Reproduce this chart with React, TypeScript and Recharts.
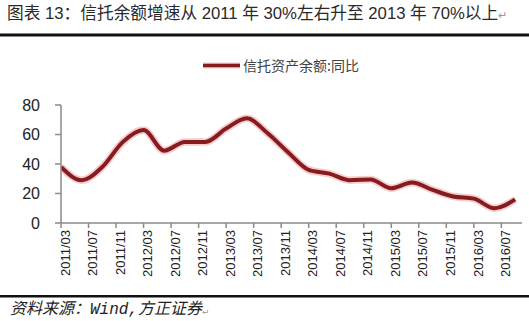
import React from "react";
import { LineChart, Line, XAxis, YAxis } from "recharts";

const quarters = [
  "2011/03", "2011/06", "2011/09", "2011/12",
  "2012/03", "2012/06", "2012/09", "2012/12",
  "2013/03", "2013/06", "2013/09", "2013/12",
  "2014/03", "2014/06", "2014/09", "2014/12",
  "2015/03", "2015/06", "2015/09", "2015/12",
  "2016/03", "2016/06", "2016/09",
];
const trustYoY = [
  38, 29, 38, 55,
  63, 49, 55, 55,
  64, 71, 61, 48,
  36, 33.5, 29, 29.5,
  23.5, 27.5, 22.5, 18,
  16.5, 10, 16,
];
const tickLabels = [
  "2011/03", "2011/07", "2011/11", "2012/03", "2012/07", "2012/11",
  "2013/03", "2013/07", "2013/11", "2014/03", "2014/07", "2014/11",
  "2015/03", "2015/07", "2015/11", "2016/03", "2016/07",
];
const yTicks = [0, 20, 40, 60, 80];
const seriesName = "信托资产余额:同比";
const titleText = "图表 13：信托余额增速从 2011 年 30%左右升至 2013 年 70%以上";
const sourceText = "资料来源：Wind,方正证券";

const monthIndex = (s: string) => {
  const [y, m] = s.split("/").map(Number);
  return (y - 2011) * 12 + (m - 3);
};

const data = quarters.map((q, i) => ({ m: monthIndex(q), v: trustYoY[i] }));
const xTicks = tickLabels.map(monthIndex);
const labelByMonth: Record<number, string> = {};
tickLabels.forEach((t) => (labelByMonth[monthIndex(t)] = t));

const LINE = "#861b20";
const GLOW = "#f6cccc";
const AXIS = "#8a8a8a";

const XTick = (props: any) => {
  const { x, y, payload } = props;
  const tx = x + 4;
  return (
    <text
      x={tx}
      y={y}
      transform={`rotate(-90, ${tx}, ${y})`}
      textAnchor="end"
      dy="0.36em"
      fontSize={13}
      fontFamily="'Liberation Sans', Arial, sans-serif"
      fill="#222"
    >
      {labelByMonth[payload.value]}
    </text>
  );
};

export default function App() {
  return (
    <div
      style={{
        position: "absolute",
        left: 0,
        top: 0,
        width: 529,
        height: 321,
        background: "#fff",
        overflow: "hidden",
      }}
    >
      <LineChart
        width={529}
        height={321}
        data={data}
        margin={{ top: 105, right: 7, bottom: 38, left: 0 }}
      >
        <XAxis
          dataKey="m"
          type="number"
          domain={[0, 67]}
          ticks={xTicks}
          interval={0}
          height={60}
          tickSize={5}
          tickMargin={2}
          stroke={AXIS}
          strokeWidth={1.5}
          tick={<XTick />}
          allowDataOverflow
        />
        <YAxis
          type="number"
          domain={[0, 80]}
          ticks={yTicks}
          width={61}
          tickSize={6}
          tickMargin={15}
          stroke={AXIS}
          strokeWidth={1.5}
          tick={{
            fontSize: 16,
            fontFamily: "'Liberation Sans', Arial, sans-serif",
            fill: "#222",
          }}
        />
        <Line
          dataKey="v"
          type="monotone"
          stroke={GLOW}
          strokeWidth={7.5}
          dot={false}
          activeDot={false}
          isAnimationActive={false}
          legendType="none"
        />
        <Line
          dataKey="v"
          name={seriesName}
          type="monotone"
          stroke={LINE}
          strokeWidth={4}
          dot={false}
          activeDot={false}
          isAnimationActive={false}
        />
      </LineChart>
      <svg
        width={529}
        height={321}
        style={{ position: "absolute", left: 0, top: 0, pointerEvents: "none" }}
      >
        <text
          x={7}
          y={19}
          fontSize={16.7}
          fontFamily="'Liberation Sans', 'Noto Sans CJK SC', sans-serif"
          fill="#2a2a2a"
        >
          {titleText}
          <tspan fontSize={11} fill="#999">↵</tspan>
        </text>
        <rect x={0} y={33.5} width={529} height={3} fill="#111" />
        <line x1={203} y1={65.5} x2={240} y2={65.5} stroke={GLOW} strokeWidth={6} />
        <line x1={203} y1={65.5} x2={240} y2={65.5} stroke={LINE} strokeWidth={3.5} />
        <text
          x={243}
          y={70.5}
          fontSize={14}
          fontFamily="'Noto Sans CJK SC', sans-serif"
          fill="#444"
        >
          {seriesName}
        </text>
        <rect x={0} y={295} width={529} height={2.5} fill="#111" />
        <text
          x={10}
          y={314}
          fontSize={16}
          fontStyle="italic"
          fontFamily="'Liberation Mono', 'Noto Sans CJK SC', monospace"
          fill="#222"
        >
          {sourceText}
          <tspan fontSize={10} fill="#999">↵</tspan>
        </text>
      </svg>
    </div>
  );
}
